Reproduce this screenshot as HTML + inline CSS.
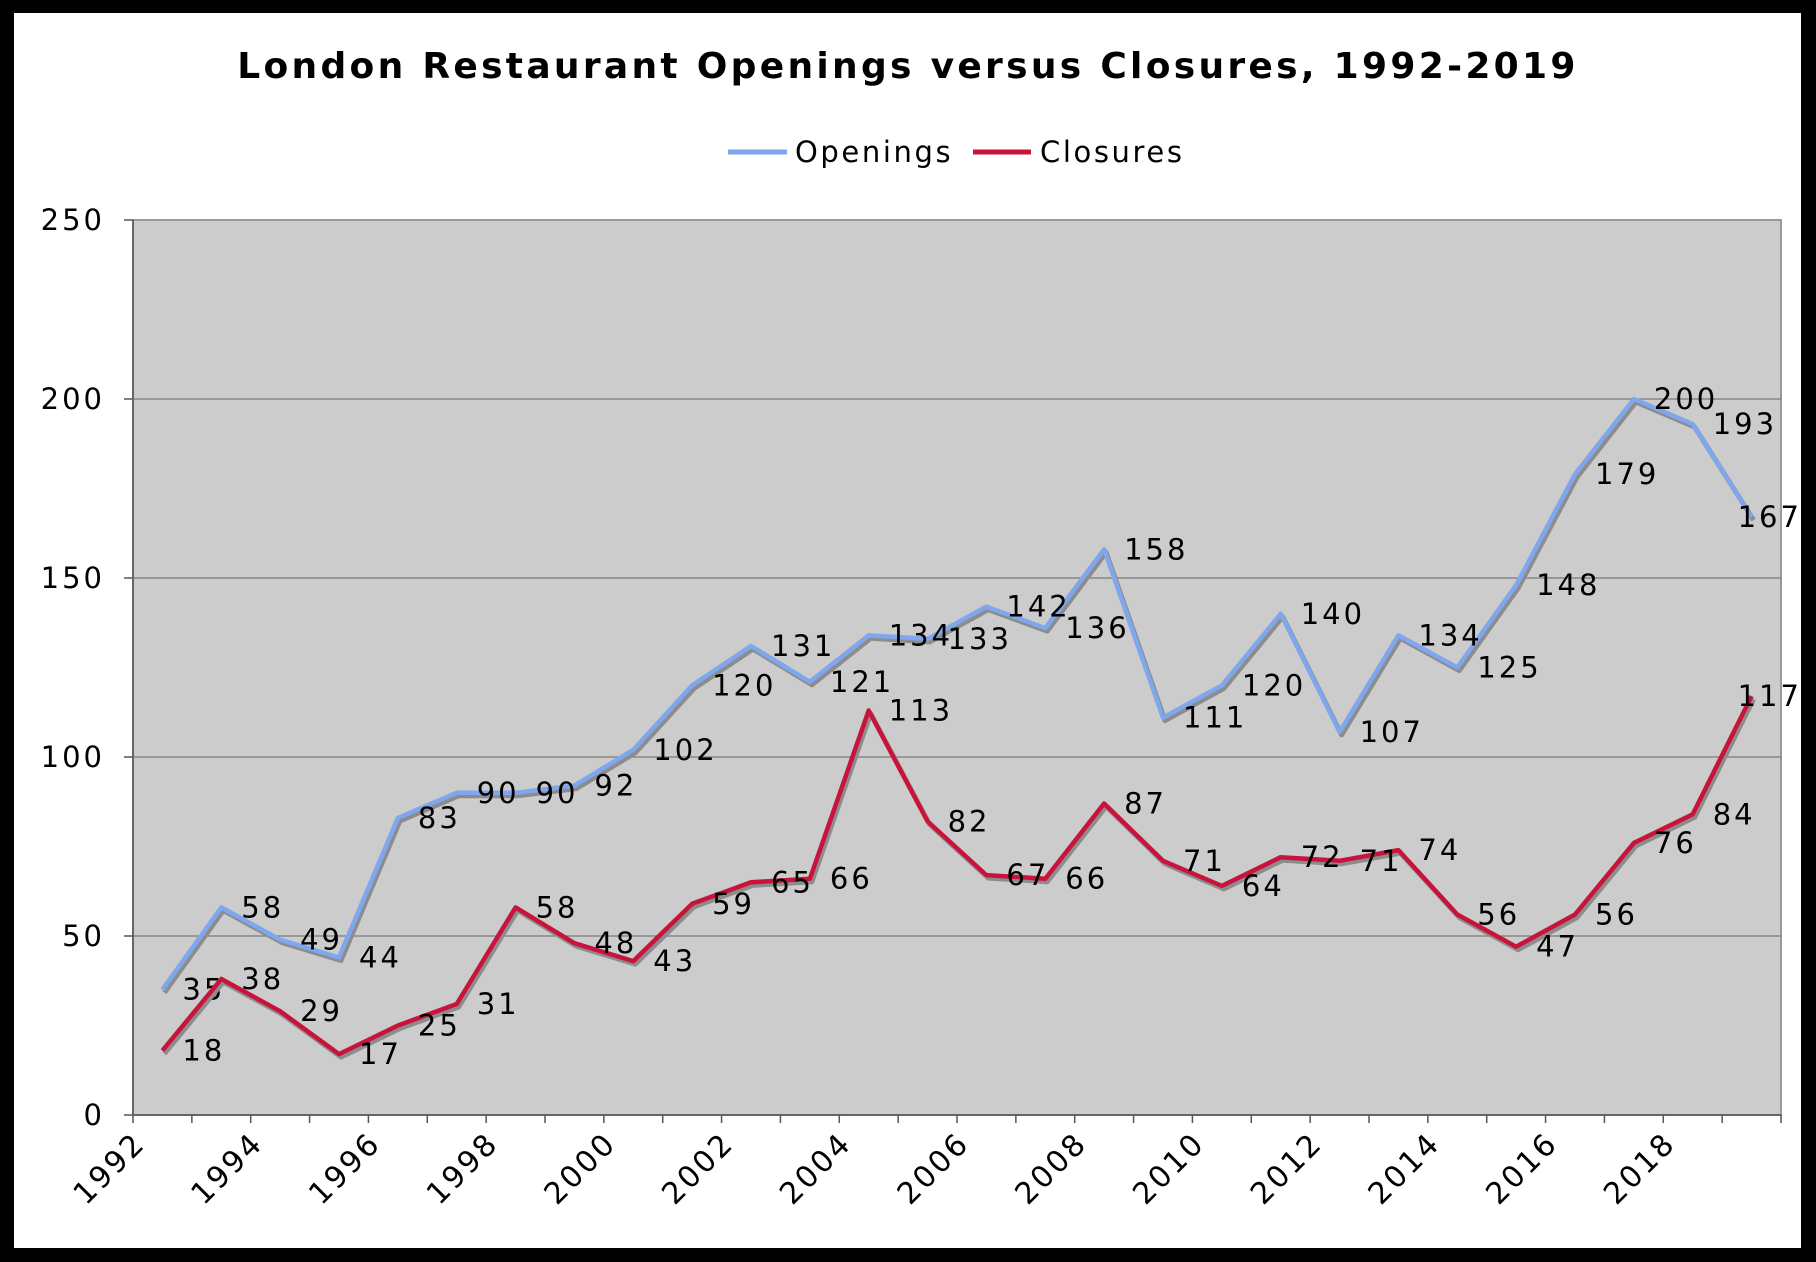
<!DOCTYPE html>
<html><head><meta charset="utf-8"><style>
html,body{margin:0;padding:0;background:#000;}
svg{display:block;}
text{font-family:"DejaVu Sans","Liberation Sans",sans-serif;fill:#000;}
</style></head><body>
<svg id="c" width="1816" height="1262" xmlns="http://www.w3.org/2000/svg">
<rect x="0" y="0" width="1816" height="1262" fill="#000"/>
<rect x="14" y="13" width="1787" height="1235" fill="#fff"/>
<text x="908" y="78" text-anchor="middle" font-size="36" font-weight="bold" letter-spacing="3.3">London Restaurant Openings versus Closures, 1992-2019</text>
<line x1="728" y1="152" x2="787" y2="152" stroke="#7fa7ee" stroke-width="5"/>
<text x="795" y="162" font-size="29" letter-spacing="2.6">Openings</text>
<line x1="973" y1="152" x2="1031" y2="152" stroke="#c8143c" stroke-width="5"/>
<text x="1040" y="162" font-size="29" letter-spacing="2.6">Closures</text>
<g id="plot"></g>
</svg>
<script>
var L=133,R=1781,T=220,B=1115,n=28,w=(R-L)/n,k=(B-T)/250;
var op=[35,58,49,44,83,90,90,92,102,120,131,121,134,133,142,136,158,111,120,140,107,134,125,148,179,200,193,167];
var cl=[18,38,29,17,25,31,58,48,43,59,65,66,113,82,67,66,87,71,64,72,71,74,56,47,56,76,84,117];
var s='<rect x="'+L+'" y="'+T+'" width="'+(R-L)+'" height="'+(B-T)+'" fill="#cccccc" stroke="#999" stroke-width="2"/>';
for(var v=0;v<=250;v+=50){var y=B-v*k;
 if(v>0&&v<250)s+='<line x1="'+L+'" y1="'+y+'" x2="'+R+'" y2="'+y+'" stroke="#7a7a7a" stroke-width="1.2"/>';
 s+='<line x1="'+(L-9)+'" y1="'+y+'" x2="'+L+'" y2="'+y+'" stroke="#555" stroke-width="1.5"/>';
 s+='<text x="'+(L-28)+'" y="'+(y+10)+'" text-anchor="end" font-size="29" letter-spacing="3">'+v+'</text>';}
s+='<line x1="'+L+'" y1="'+T+'" x2="'+L+'" y2="'+B+'" stroke="#666" stroke-width="2"/>';
s+='<line x1="'+L+'" y1="'+B+'" x2="'+R+'" y2="'+B+'" stroke="#666" stroke-width="2"/>';
for(var i=0;i<=n;i++){var x=L+i*w;
 s+='<line x1="'+x+'" y1="'+B+'" x2="'+x+'" y2="'+(B+8)+'" stroke="#555" stroke-width="1.5"/>';
 if(i%2==0&&i<n)s+='<text transform="translate('+(x+14)+','+(B+30)+') rotate(-45)" text-anchor="end" font-size="30" letter-spacing="2.5">'+(1992+i)+'</text>';}
function series(d,c){var p=d.map(function(v,i){return (L+w*(i+0.5)).toFixed(1)+','+(B-v*k).toFixed(1)}).join(' ');
 var p2=d.map(function(v,i){return (L+w*(i+0.5)+2).toFixed(1)+','+(B-v*k+3).toFixed(1)}).join(' ');
 var r='<polyline points="'+p2+'" fill="none" stroke="#8c8c8c" stroke-width="5" stroke-linejoin="round"/>';
 r+='<polyline points="'+p+'" fill="none" stroke="'+c+'" stroke-width="4.5" stroke-linejoin="round"/>';
 d.forEach(function(v,i){var dx=(i==n-1)?-14:20;
  r+='<text x="'+(L+w*(i+0.5)+dx).toFixed(1)+'" y="'+(B-v*k+10).toFixed(1)+'" font-size="29" letter-spacing="3">'+v+'</text>';});
 return r;}
s+=series(op,'#7fa7ee')+series(cl,'#c8143c');
document.getElementById('plot').innerHTML=s;
</script>
</body></html>
